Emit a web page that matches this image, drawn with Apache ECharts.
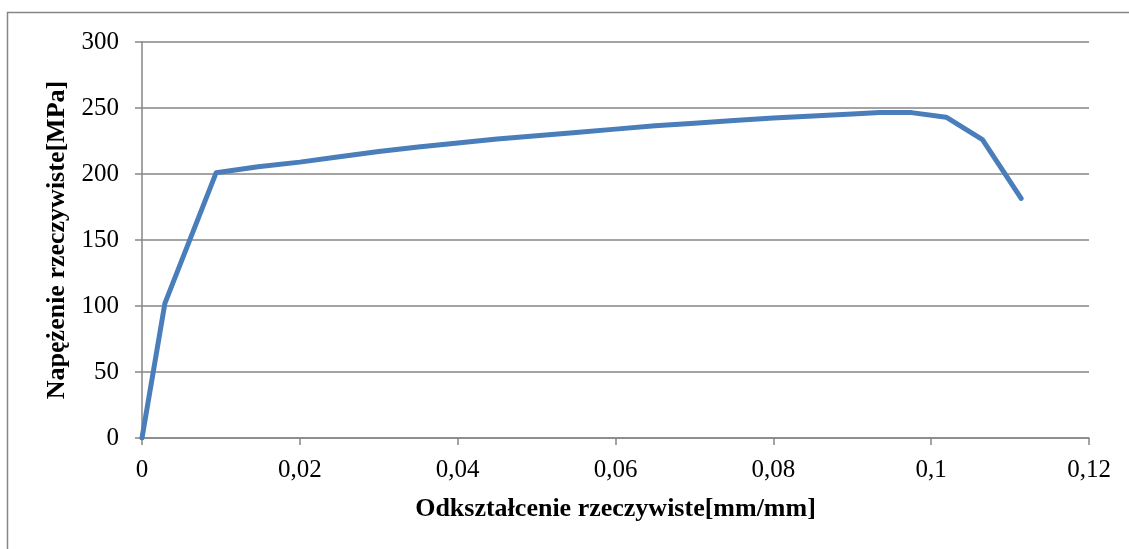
<!DOCTYPE html>
<html>
<head>
<meta charset="utf-8">
<script src="https://cdn.jsdelivr.net/npm/echarts@6/dist/echarts.min.js"></script>
<style>
  html, body { margin: 0; padding: 0; background: #fff; }
  #chart { width: 1129px; height: 549px; }
</style>
</head>
<body>
<div id="chart"></div>
<script>
// True strain [mm/mm] and true stress [MPa]
const strain = [0, 0.0029, 0.0094, 0.0147, 0.02, 0.025, 0.03, 0.035, 0.04, 0.045, 0.05, 0.055, 0.06, 0.065, 0.07, 0.075, 0.08, 0.085, 0.09, 0.0935, 0.0975, 0.1019, 0.1065, 0.1114];
const stress = [0, 102, 201, 205.5, 209, 213, 217, 220.5, 223.5, 226.5, 229, 231.5, 234, 236.5, 238.5, 240.5, 242.5, 244, 245.5, 246.5, 246.5, 243, 226, 181.5];

const xTitle = 'Odkształcenie rzeczywiste[mm/mm]';
const yTitle = 'Napężenie rzeczywiste[MPa]';

const points = strain.map((x, i) => [x, stress[i]]);
const font = '"Liberation Serif", "Times New Roman", serif';
const gray = '#868686';

const chart = echarts.init(document.getElementById('chart'));
chart.setOption({
  animation: false,
  backgroundColor: '#fff',
  graphic: [{
    type: 'rect',
    shape: { x: 7.5, y: 12.5, width: 1130, height: 545 },
    style: { fill: 'none', stroke: gray, lineWidth: 1.5 },
    silent: true
  }],
  grid: { left: 142, right: 40, top: 42, bottom: 111 },
  xAxis: {
    type: 'value',
    min: 0, max: 0.12, interval: 0.02,
    name: xTitle,
    nameLocation: 'middle',
    nameGap: 58,
    nameTextStyle: { fontFamily: font, fontSize: 26, fontWeight: 'bold', color: '#000' },
    axisLine: { show: true, lineStyle: { color: gray, width: 1.5 } },
    axisTick: { show: true, length: 7, lineStyle: { color: gray, width: 1.5 } },
    axisLabel: {
      fontFamily: font, fontSize: 25, color: '#000', margin: 20,
      formatter: v => String(Math.round(v * 100) / 100).replace('.', ',')
    },
    splitLine: { show: false }
  },
  yAxis: {
    type: 'value',
    min: 0, max: 300, interval: 50,
    name: yTitle,
    nameLocation: 'middle',
    nameGap: 65,
    nameTextStyle: { fontFamily: font, fontSize: 26, fontWeight: 'bold', color: '#000' },
    axisLine: { show: true, lineStyle: { color: gray, width: 1.5 } },
    axisTick: { show: true, length: 7, lineStyle: { color: gray, width: 1.5 } },
    axisLabel: { fontFamily: font, fontSize: 25, color: '#000', margin: 23 },
    splitLine: { show: true, lineStyle: { color: gray, width: 1.5 } }
  },
  series: [{
    type: 'line',
    data: points,
    showSymbol: false,
    smooth: false,
    lineStyle: { color: '#4a7ebb', width: 5, cap: 'round', join: 'round' }
  }]
});
</script>
</body>
</html>
